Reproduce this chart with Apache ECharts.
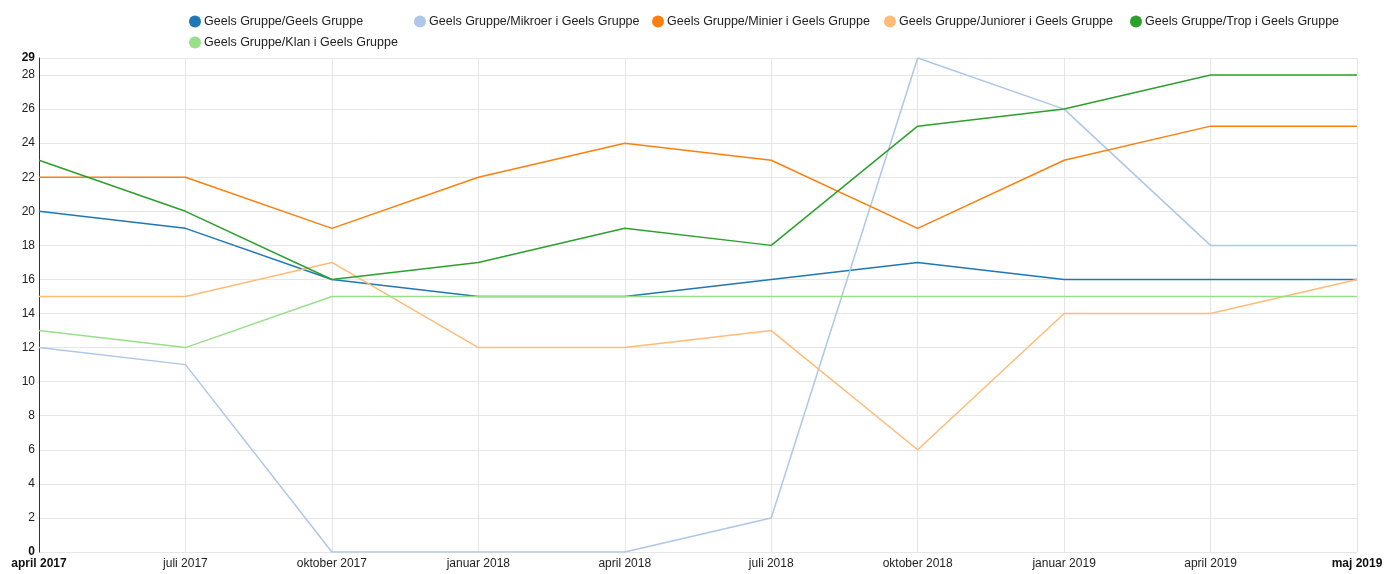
<!DOCTYPE html>
<html>
<head>
<meta charset="utf-8">
<script src="https://cdn.jsdelivr.net/npm/echarts@6/dist/echarts.min.js"></script>
<style>
  html, body { margin: 0; padding: 0; background: #fff; }
  #chart { width: 1389px; height: 574px; }
</style>
</head>
<body>
<div id="chart"></div>
<script>
const categories = [
  "april 2017", "juli 2017", "oktober 2017", "januar 2018", "april 2018",
  "juli 2018", "oktober 2018", "januar 2019", "april 2019", "maj 2019"
];

const seriesNames = [
  "Geels Gruppe/Geels Gruppe",
  "Geels Gruppe/Mikroer i Geels Gruppe",
  "Geels Gruppe/Minier i Geels Gruppe",
  "Geels Gruppe/Juniorer i Geels Gruppe",
  "Geels Gruppe/Trop i Geels Gruppe",
  "Geels Gruppe/Klan i Geels Gruppe"
];

const geels = [20, 19, 16, 15, 15, 16, 17, 16, 16, 16];
const mikroer = [12, 11, 0, 0, 0, 2, 29, 26, 18, 18];
const minier = [22, 22, 19, 22, 24, 23, 19, 23, 25, 25];
const juniorer = [15, 15, 17, 12, 12, 13, 6, 14, 14, 16];
const trop = [23, 20, 16, 17, 19, 18, 25, 26, 28, 28];
const klan = [13, 12, 15, 15, 15, 15, 15, 15, 15, 15];

const colors = ["#1f77b4", "#aec7e8", "#ff7f0e", "#ffbb78", "#2ca02c", "#98df8a"];

const allValues = [geels, mikroer, minier, juniorer, trop, klan];
const yMax = Math.max.apply(null, allValues.map(function (a) { return Math.max.apply(null, a); }));

let chartDom = document.getElementById("chart");
let myChart = echarts.init(chartDom);

const font = "'Liberation Sans', Arial, sans-serif";

// legend item positions, one legend per entry to mimic the original spacing
const legendLeft = [189, 414, 652, 884, 1130, 189];
const legendTop = [15, 15, 15, 15, 15, 36];

let option = {
  animation: false,
  color: colors,
  legend: seriesNames.map(function (name, i) {
    return {
      top: legendTop[i],
      left: legendLeft[i],
      icon: "circle",
      itemWidth: 12,
      itemHeight: 12,
      padding: 0,
      textStyle: { fontFamily: font, fontSize: 12.5, color: "#222", padding: [0, 0, 0, -2] },
      data: [name]
    };
  }),
  grid: {
    left: 39,
    right: 32,
    top: 58,
    bottom: 22,
    containLabel: false
  },
  xAxis: {
    type: "category",
    boundaryGap: false,
    data: categories,
    axisLine: { show: false },
    axisTick: { show: false },
    splitLine: { show: true, lineStyle: { color: "#e6e6e6", width: 1 } },
    axisLabel: {
      interval: 0,
      margin: 6,
      fontFamily: font,
      fontSize: 12,
      color: "#222",
      formatter: function (value, index) {
        if (index === 0 || index === categories.length - 1) {
          return "{b|" + value + "}";
        }
        return value;
      },
      rich: {
        b: { fontWeight: "bold", fontFamily: font, fontSize: 12, color: "#111" }
      }
    }
  },
  yAxis: {
    type: "value",
    min: 0,
    max: yMax,
    interval: 2,
    axisLine: { show: true, lineStyle: { color: "#333", width: 1 } },
    axisTick: { show: false },
    splitLine: { lineStyle: { color: "#e6e6e6", width: 1 } },
    axisLabel: {
      margin: 4,
      fontFamily: font,
      fontSize: 12,
      color: "#222",
      formatter: function (value) {
        if (value === 0 || value === yMax) {
          return "{b|" + value + "}";
        }
        return String(value);
      },
      rich: {
        b: { fontWeight: "bold", fontFamily: font, fontSize: 12, color: "#111" }
      }
    }
  },
  series: allValues.map(function (vals, i) {
    return {
      name: seriesNames[i],
      type: "line",
      data: vals,
      showSymbol: false,
      symbol: "none",
      lineStyle: { width: 1.5, color: colors[i] },
      itemStyle: { color: colors[i] }
    };
  })
};

myChart.setOption(option);
</script>
</body>
</html>
